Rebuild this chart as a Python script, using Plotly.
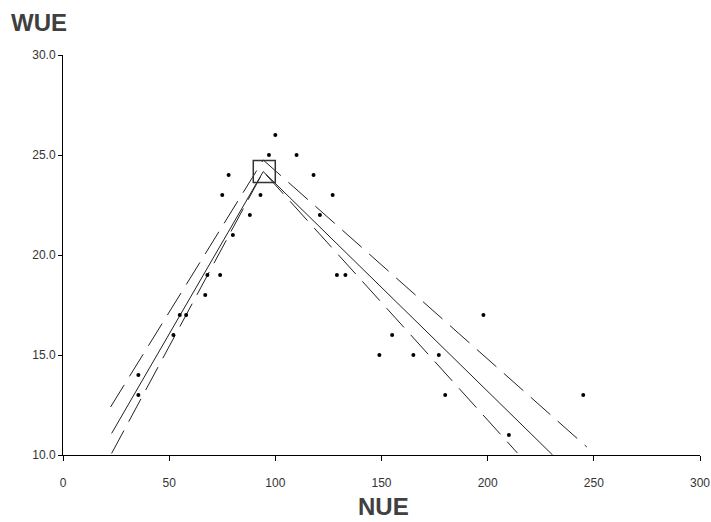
import plotly.graph_objects as go

# Observed data points (NUE, WUE)
nue = [35.5, 35.5, 52, 55, 58, 67, 68, 74, 80, 75, 78, 88, 93, 97, 100,
       110, 118, 127, 121, 129, 133, 149, 155, 165, 177, 180, 198, 210, 245]
wue = [14, 13, 16, 17, 17, 18, 19, 19, 21, 23, 24, 22, 23, 25, 26,
       25, 24, 23, 22, 19, 19, 15, 16, 15, 15, 13, 17, 11, 13]

# Optimum (peak of the fitted broken-line model)
peak_nue = [94.8]
peak_wue = [24.18]

# Fitted line and confidence bands (break points)
fit_x = [22.9, 94.3, 230.6]
fit_y = [11.08, 24.17, 10.0]
upper_x = [22.4, 94.3, 246.7]
upper_y = [12.4, 24.75, 10.4]
lower_x = [22.9, 94.3, 214.0]
lower_y = [10.08, 24.17, 10.1]

x_ticks = [0, 50, 100, 150, 200, 250, 300]
y_ticks = [10, 15, 20, 25, 30]

fig = go.Figure()
fig.add_trace(go.Scatter(x=upper_x, y=upper_y, mode="lines",
                         line=dict(color="#222", width=1, dash="26px,10px"),
                         hoverinfo="skip", showlegend=False))
fig.add_trace(go.Scatter(x=lower_x, y=lower_y, mode="lines",
                         line=dict(color="#222", width=1, dash="26px,10px"),
                         hoverinfo="skip", showlegend=False))
fig.add_trace(go.Scatter(x=fit_x, y=fit_y, mode="lines",
                         line=dict(color="#222", width=1),
                         hoverinfo="skip", showlegend=False))
fig.add_trace(go.Scatter(x=nue, y=wue, mode="markers",
                         marker=dict(color="black", size=4),
                         showlegend=False))
fig.add_trace(go.Scatter(x=peak_nue, y=peak_wue, mode="markers",
                         marker=dict(symbol="square-open", size=22,
                                     color="#333", line=dict(width=1.5, color="#333")),
                         showlegend=False))

axis_font = dict(family="Liberation Sans, Arial, sans-serif", size=12, color="#333")
fig.update_xaxes(range=[0, 300], tickvals=x_ticks, ticktext=[str(v) for v in x_ticks],
                 showgrid=False, zeroline=False, showline=True, linecolor="black",
                 linewidth=1, ticks="outside", ticklen=5, tickcolor="black",
                 tickfont=axis_font, ticklabelstandoff=12, automargin=False)
fig.update_yaxes(range=[10, 30], tickvals=y_ticks, ticktext=[f"{v:.1f}" for v in y_ticks],
                 showgrid=False, zeroline=False, showline=True, linecolor="black",
                 linewidth=1, ticks="outside", ticklen=4, tickcolor="black",
                 tickfont=axis_font, automargin=False)

title_font = dict(family="Liberation Sans, Arial, sans-serif", size=24, color="#404040")
pw, ph = 711 - 63 - 11, 522 - 55 - 67
fig.update_layout(
    width=711, height=522,
    margin=dict(l=63, r=11, t=55, b=67),
    plot_bgcolor="white", paper_bgcolor="white",
    annotations=[
        dict(text="<b>WUE</b>", x=(9 - 63) / pw, y=(522 - 67 - 23) / ph,
             xref="paper", yref="paper", showarrow=False, font=title_font,
             xanchor="left", yanchor="middle"),
        dict(text="<b>NUE</b>", x=(383 - 63) / pw, y=(522 - 67 - 507) / ph,
             xref="paper", yref="paper", showarrow=False, font=title_font,
             xanchor="center", yanchor="middle"),
    ],
)

fig.write_html("out.html", config={"displayModeBar": False},
               post_script="document.body.style.margin='0';document.body.style.overflow='hidden';")
